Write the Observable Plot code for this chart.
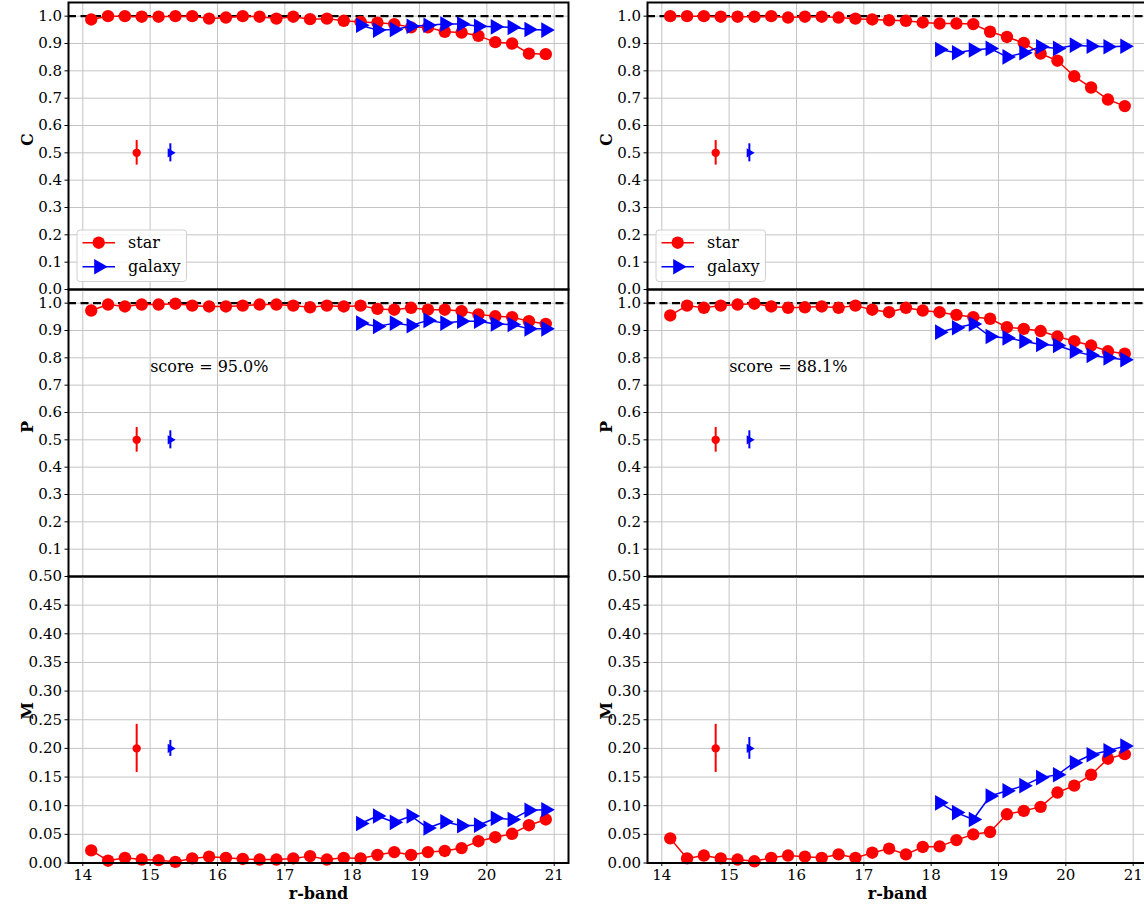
<!DOCTYPE html>
<html><head><meta charset="utf-8">
<script src="https://cdn.jsdelivr.net/npm/d3@7"></script>
<script src="https://cdn.jsdelivr.net/npm/@observablehq/plot@0.6"></script>
<style>
html,body{margin:0;padding:0;background:#fff;overflow:hidden;}
#chart{position:relative;width:1144px;height:909px;font-family:"DejaVu Serif",serif;}
#chart svg{position:absolute;overflow:visible;}
</style></head><body><div id="chart"></div>
<script>
// ---------- data ----------
const starX = [14.125,14.375,14.625,14.875,15.125,15.375,15.625,15.875,16.125,16.375,16.625,16.875,17.125,17.375,17.625,17.875,18.125,18.375,18.625,18.875,19.125,19.375,19.625,19.875,20.125,20.375,20.625,20.875];
const galaxyX = [18.125,18.375,18.625,18.875,19.125,19.375,19.625,19.875,20.125,20.375,20.625,20.875];

const starC_L = [0.988,1.0,1.0,0.998,0.998,1.0,1.0,0.991,0.995,1.0,0.998,0.991,0.998,0.989,0.991,0.983,0.979,0.976,0.971,0.959,0.959,0.943,0.940,0.928,0.905,0.900,0.863,0.861];
const galaxyC_L = [0.967,0.949,0.951,0.963,0.967,0.971,0.971,0.963,0.961,0.959,0.951,0.949];
const starP_L = [0.973,0.995,0.988,0.995,0.995,0.998,0.991,0.988,0.988,0.991,0.995,0.995,0.991,0.985,0.991,0.988,0.991,0.979,0.976,0.983,0.976,0.976,0.971,0.959,0.952,0.949,0.934,0.924];
const galaxyP_L = [0.927,0.915,0.927,0.918,0.937,0.927,0.934,0.934,0.924,0.922,0.906,0.906];
const starM_L = [0.022,0.004,0.009,0.006,0.005,0.002,0.008,0.011,0.009,0.007,0.006,0.006,0.008,0.012,0.006,0.009,0.008,0.014,0.019,0.014,0.019,0.021,0.026,0.038,0.045,0.051,0.066,0.076];
const galaxyM_L = [0.069,0.082,0.071,0.082,0.061,0.072,0.065,0.066,0.078,0.076,0.092,0.093];

const starC_R = [1.0,1.0,1.0,0.998,0.998,0.998,1.0,0.995,0.998,0.998,0.995,0.991,0.988,0.985,0.983,0.977,0.973,0.973,0.971,0.943,0.924,0.902,0.863,0.837,0.780,0.739,0.695,0.671];
const galaxyC_R = [0.878,0.866,0.876,0.882,0.851,0.866,0.888,0.882,0.894,0.890,0.888,0.890];
const starP_R = [0.955,0.991,0.983,0.991,0.995,0.998,0.988,0.983,0.985,0.988,0.983,0.991,0.976,0.967,0.983,0.973,0.967,0.957,0.949,0.943,0.912,0.906,0.898,0.878,0.861,0.845,0.824,0.815];
const galaxyP_R = [0.894,0.910,0.924,0.878,0.873,0.861,0.849,0.845,0.824,0.809,0.800,0.793];
const starM_R = [0.043,0.008,0.013,0.008,0.006,0.003,0.009,0.013,0.011,0.009,0.015,0.009,0.018,0.025,0.015,0.028,0.029,0.040,0.050,0.054,0.085,0.091,0.098,0.123,0.135,0.154,0.182,0.190];
const galaxyM_R = [0.105,0.088,0.076,0.117,0.126,0.135,0.149,0.154,0.175,0.189,0.196,0.204];

// typical error markers: [x, value, error]
const errStarCP = [14.8, 0.5, 0.045];
const errGalaxyCP = [15.3, 0.5, 0.033];
const errStarM = [14.8, 0.2, 0.042];
const errGalaxyM_L = [15.3, 0.2, 0.014];
const errGalaxyM_R = [15.3, 0.2, 0.019];

const scores = ["score = 95.0%", "score = 88.1%"];
const rowLabels = ["C", "P", "M"];
const seriesNames = ["star", "galaxy"];
const xTicks = [14,15,16,17,18,19,20,21];
const yTicksCP = [0.0,0.1,0.2,0.3,0.4,0.5,0.6,0.7,0.8,0.9,1.0];
const yTicksCPmid = [0.1,0.2,0.3,0.4,0.5,0.6,0.7,0.8,0.9,1.0];
const yTicksM = [0.00,0.05,0.10,0.15,0.20,0.25,0.30,0.35,0.40,0.45,0.50];

// ---------- layout ----------
const RED = "#ff0000", BLUE = "#0000ff";
const colX = [68.3, 646.5];
const rowY = [[2,289],[289,576],[576,862.5]];
const PW = 500;
const mL = 75, mR = 10, mT = 10, mB = 45;
const xDomain = [13.7875, 21.2125];
const TRI_R = 5.8;
const chart = document.getElementById("chart");

function panel(col, row, star, galaxy, errS, errG) {
  const [y0, y1] = rowY[row];
  const ph = y1 - y0;
  const sd = starX.map((x, i) => ({x, y: star[i]}));
  const gd = galaxyX.map((x, i) => ({x, y: galaxy[i]}));
  const isM = row === 2;
  const yTicks = row === 0 ? yTicksCP : row === 1 ? yTicksCPmid : yTicksM;
  const marks = [
    Plot.gridX(xTicks, {stroke: "#c4c4c4", strokeOpacity: 1, strokeWidth: 1}),
    Plot.gridY(yTicks, {stroke: "#c4c4c4", strokeOpacity: 1, strokeWidth: 1}),
    Plot.axisY(yTicks, {tickSize: 3.5, tickPadding: 3, fontSize: 15, label: null,
      tickFormat: d => isM ? d.toFixed(2) : d.toFixed(1)}),
  ];
  if (!isM) marks.push(Plot.ruleY([1], {stroke: "black", strokeWidth: 2.4, strokeDasharray: "8,4.5"}));
  marks.push(
    Plot.line(sd, {x: "x", y: "y", stroke: RED, strokeWidth: 1.5}),
    Plot.dot(sd, {x: "x", y: "y", r: 6.2, fill: RED, stroke: "none"}),
    Plot.line(gd, {x: "x", y: "y", stroke: BLUE, strokeWidth: 1.5}),
    Plot.dot(gd, {x: "x", y: "y", r: TRI_R, symbol: "triangle", rotate: 90, fill: BLUE, stroke: "none"}),
    Plot.ruleX([{x: errS[0], lo: errS[1]-errS[2], hi: errS[1]+errS[2]}], {x: "x", y1: "lo", y2: "hi", stroke: RED, strokeWidth: 2}),
    Plot.dot([{x: errS[0], y: errS[1]}], {x: "x", y: "y", r: 4.2, fill: RED, stroke: "none"}),
    Plot.ruleX([{x: errG[0], lo: errG[1]-errG[2], hi: errG[1]+errG[2]}], {x: "x", y1: "lo", y2: "hi", stroke: BLUE, strokeWidth: 2}),
    Plot.dot([{x: errG[0], y: errG[1]}], {x: "x", y: "y", r: 3.4, symbol: "triangle", rotate: 90, fill: BLUE, stroke: "none"}),
    Plot.frame({stroke: "black", strokeWidth: 2}),
    Plot.text([rowLabels[row]], {frameAnchor: "left", dx: -41, rotate: -90, fontWeight: "bold", fontSize: 16, fill: "black"})
  );
  if (row === 1) {
    marks.push(Plot.text([{x: 15, y: 0.75, t: scores[col]}], {x: "x", y: "y", text: "t", textAnchor: "start", lineAnchor: "bottom", fontSize: 16, fill: "black"}));
  }
  if (isM) {
    marks.push(
      Plot.axisX(xTicks, {tickSize: 3.5, tickPadding: 3, fontSize: 15, label: null, tickFormat: d => String(d)}),
      Plot.text(["r-band"], {frameAnchor: "bottom", dy: 31, lineAnchor: "middle", fontWeight: "bold", fontSize: 16, fill: "black"})
    );
  }
  const p = Plot.plot({
    width: PW + mL + mR, height: ph + mT + mB,
    marginLeft: mL, marginRight: mR, marginTop: mT, marginBottom: mB,
    style: {background: "transparent", fontFamily: "DejaVu Serif", overflow: "visible", color: "black"},
    x: {domain: xDomain, axis: null},
    y: {domain: isM ? [0, 0.5] : [0, 1.05], axis: null},
    marks
  });
  p.style.left = (colX[col] - mL) + "px";
  p.style.top = (y0 - mT) + "px";
  chart.appendChild(p);
}

panel(0, 0, starC_L, galaxyC_L, errStarCP, errGalaxyCP);
panel(0, 1, starP_L, galaxyP_L, errStarCP, errGalaxyCP);
panel(0, 2, starM_L, galaxyM_L, errStarM, errGalaxyM_L);
panel(1, 0, starC_R, galaxyC_R, errStarCP, errGalaxyCP);
panel(1, 1, starP_R, galaxyP_R, errStarCP, errGalaxyCP);
panel(1, 2, starM_R, galaxyM_R, errStarM, errGalaxyM_R);

// ---------- legends ----------
colX.forEach(cx => {
  const bx = cx + 9, by = 230, bw = 109.5, bh = 51.5;
  const svg = d3.select(chart).append("svg")
    .attr("width", bw + 2).attr("height", bh + 2)
    .style("left", (bx - 1) + "px").style("top", (by - 1) + "px");
  svg.append("rect").attr("x", 1).attr("y", 1).attr("width", bw).attr("height", bh).attr("rx", 3)
    .attr("fill", "white").attr("fill-opacity", 0.8).attr("stroke", "#d0d0d0").attr("stroke-width", 1);
  seriesNames.forEach((name, i) => {
    const cy = 1 + 12.7 + i * 24;
    const col = i === 0 ? RED : BLUE;
    svg.append("line").attr("x1", 6.5).attr("x2", 39).attr("y1", cy).attr("y2", cy)
      .attr("stroke", col).attr("stroke-width", 1.5);
    if (i === 0) svg.append("circle").attr("cx", 22.7).attr("cy", cy).attr("r", 6.2).attr("fill", col);
    else svg.append("path").attr("d", d3.symbol(d3.symbolTriangle, Math.PI * TRI_R * TRI_R)())
      .attr("transform", `translate(22.7,${cy}) rotate(90)`).attr("fill", col);
    svg.append("text").attr("x", 52).attr("y", cy).attr("dy", "0.35em")
      .attr("font-family", "DejaVu Serif").attr("font-size", 16).attr("fill", "black").text(name);
  });
});
</script></body></html>
